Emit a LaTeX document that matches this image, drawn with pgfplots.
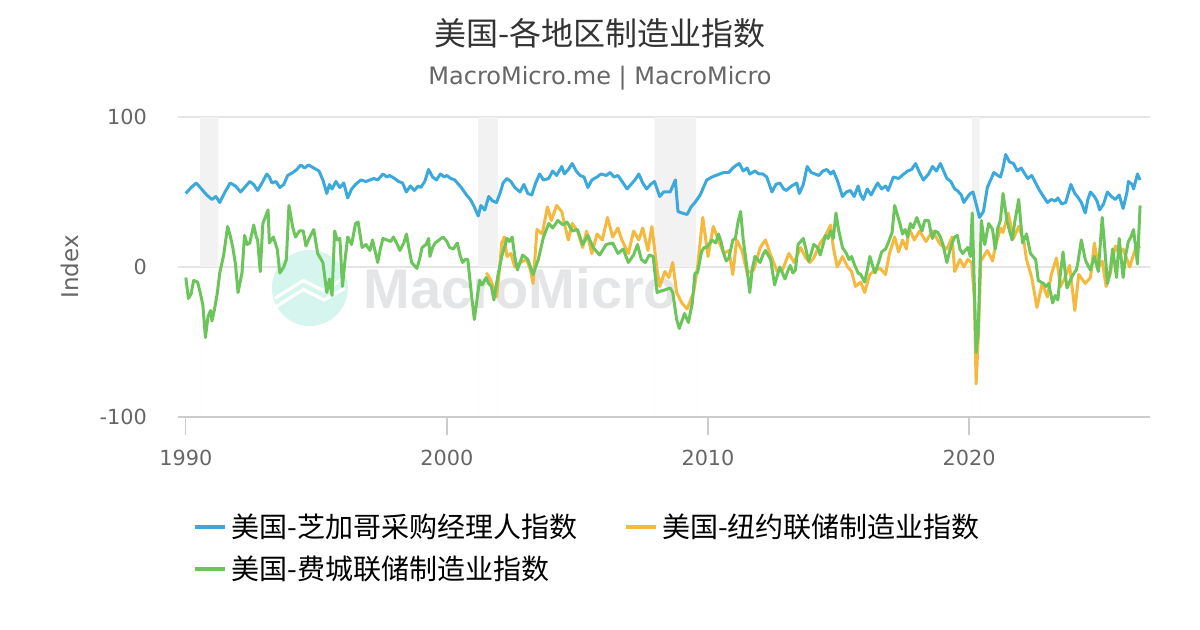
\documentclass[border=0pt]{standalone}
\usepackage{fontspec}
\setmainfont{DejaVu Sans}
\newfontfamily\cjk{Noto Sans CJK SC}
\newfontfamily\wmfont{Liberation Sans}
\usepackage{pgfplots}
\pgfplotsset{compat=1.18}

\definecolor{chi}{HTML}{3BA9DC}
\definecolor{nyf}{HTML}{F4B93E}
\definecolor{phl}{HTML}{6BC55B}
\definecolor{recess}{HTML}{F2F2F2}
\definecolor{txtgray}{HTML}{666666}
\definecolor{ttl}{HTML}{333333}

\begin{document}
\begin{tikzpicture}
\useasboundingbox (0,0) rectangle (600pt,315pt);
\node[font=\cjk\fontsize{16}{18}\selectfont, text=ttl] at (300pt,298.5pt) {美国-各地区制造业指数};
\node[font=\fontsize{12}{14}\selectfont, text=txtgray] at (300pt,276pt) {MacroMicro.me | MacroMicro};

\begin{axis}[
    at={(89pt,106.5pt)}, anchor=south west,
    scale only axis, width=486pt, height=150pt,
    xmin=1989.7, xmax=2026.93, ymin=-100, ymax=100,
    axis lines*=left,
    y axis line style={draw=none},
    x axis line style={draw=black!20, line width=0.6pt},
    xtick={1990,2000,2010,2020}, xticklabels={1990,2000,2010,2020},
    ytick={-100,0,100}, yticklabels={-100,0,100},
    tick align=outside, major tick length=9pt,
    xtick style={draw=black!20, line width=0.6pt},
    ytick style={draw=none},
    ymajorgrids, grid style={draw=black!10, line width=0.6pt},
    ticklabel style={font=\fontsize{10.4}{12}\selectfont, text=txtgray},
    yticklabel style={xshift=-3pt},
    xticklabel style={yshift=-4pt},
    ylabel={Index},
    every axis y label/.style={at={(axis description cs:-0.111,0.5)}, anchor=center, rotate=90, font=\fontsize{11.5}{13}\selectfont, text=txtgray},
    legend columns=2,
    legend cell align=left,
    legend style={at={(axis description cs:0,0)}, anchor=north west, xshift=4.5pt, yshift=-44pt,
        draw=none, fill=none, font=\cjk\fontsize{14}{16}\selectfont,
        /tikz/every even column/.append style={column sep=21.5pt}, row sep=4pt},
    legend image code/.code={\draw[#1, line width=2pt] (-1.5pt,0pt) -- (13.5pt,0pt);},
]
% recession bands
\addplot[fill=recess, draw=none, forget plot] coordinates {(1990.55,-100) (1990.55,100) (1991.25,100) (1991.25,-100)} \closedcycle;
\addplot[fill=recess, draw=none, forget plot] coordinates {(2001.2,-100) (2001.2,100) (2001.95,100) (2001.95,-100)} \closedcycle;
\addplot[fill=recess, draw=none, forget plot] coordinates {(2007.95,-100) (2007.95,100) (2009.55,100) (2009.55,-100)} \closedcycle;
\addplot[fill=recess, draw=none, forget plot] coordinates {(2020.12,-100) (2020.12,100) (2020.4,100) (2020.4,-100)} \closedcycle;

% watermark
\fill[color={rgb,255:red,214;green,245;blue,238}] (axis cs:1994.75,-14) circle[radius=19pt];
\draw[white, line width=1.6pt] (axis cs:1993.4,-21) -- (axis cs:1994.5,-9) -- (axis cs:1995.3,-16) -- (axis cs:1996.0,-8);
\draw[white, line width=1.6pt] (axis cs:1993.4,-27) -- (axis cs:1994.5,-15) -- (axis cs:1995.3,-22) -- (axis cs:1996.1,-14);
\node[font=\wmfont\bfseries\fontsize{28}{30}\selectfont, text={rgb,255:red,228;green,229;blue,230}] at (axis cs:2002.84,-14) {MacroMicro};

% Chicago PMI
\addplot[chi, line width=1.5pt, line join=round] coordinates {
(1990.0,49) (1990.2,53) (1990.4,56) (1990.6,52) (1990.8,48) (1991.0,45) (1991.15,47) (1991.3,43)
(1991.5,50) (1991.7,56) (1991.9,54) (1992.1,50) (1992.3,54) (1992.45,57) (1992.6,55) (1992.75,51)
(1992.95,57) (1993.1,62) (1993.2,60) (1993.3,56) (1993.45,57) (1993.6,53) (1993.75,55) (1993.9,61)
(1994.1,63) (1994.25,65) (1994.4,68) (1994.55,66) (1994.7,68) (1994.9,66) (1995.0,65) (1995.1,64)
(1995.25,58) (1995.4,49) (1995.5,55) (1995.6,52) (1995.75,57) (1995.9,53) (1996.05,56) (1996.2,46)
(1996.35,52) (1996.5,55) (1996.7,58) (1996.9,57) (1997.05,58) (1997.2,59) (1997.35,58) (1997.55,62)
(1997.7,60) (1997.8,61) (1998.0,59) (1998.15,57) (1998.3,56) (1998.45,50) (1998.6,54) (1998.75,51)
(1998.9,54) (1999.0,53) (1999.15,57) (1999.3,65) (1999.45,60) (1999.6,58) (1999.75,62) (1999.9,60)
(2000.0,61) (2000.15,59) (2000.3,58) (2000.4,56) (2000.55,53) (2000.75,48) (2000.9,45) (2001.05,40)
(2001.2,34) (2001.3,41) (2001.45,38) (2001.6,47) (2001.75,44) (2001.9,43) (2002.05,50) (2002.15,56)
(2002.3,59) (2002.45,57) (2002.6,53) (2002.8,50) (2002.95,55) (2003.1,49) (2003.25,48) (2003.4,56)
(2003.55,62) (2003.7,58) (2003.9,59) (2004.05,64) (2004.2,61) (2004.4,67) (2004.5,62) (2004.65,65)
(2004.8,69) (2004.95,64) (2005.1,61) (2005.25,60) (2005.4,53) (2005.55,58) (2005.75,60) (2005.9,62)
(2006.1,61) (2006.25,63) (2006.4,60) (2006.55,61) (2006.75,56) (2006.9,52) (2007.05,55) (2007.2,58)
(2007.35,62) (2007.5,56) (2007.65,52) (2007.8,55) (2007.95,57) (2008.15,47) (2008.3,50) (2008.55,50)
(2008.75,58) (2008.85,37) (2009.0,36) (2009.2,35) (2009.35,40) (2009.5,43) (2009.7,48) (2009.85,54)
(2009.95,58) (2010.15,60) (2010.3,61) (2010.45,62) (2010.6,63) (2010.8,63) (2010.95,66) (2011.1,68)
(2011.2,69) (2011.35,64) (2011.5,66) (2011.6,62) (2011.8,64) (2011.95,62) (2012.1,62) (2012.25,60)
(2012.45,50) (2012.6,55) (2012.75,56) (2012.9,52) (2013.0,51) (2013.2,54) (2013.4,56) (2013.5,49)
(2013.65,55) (2013.8,67) (2013.95,63) (2014.1,62) (2014.25,61) (2014.4,64) (2014.55,65) (2014.7,62)
(2014.8,64) (2014.95,58) (2015.15,47) (2015.3,50) (2015.45,51) (2015.6,47) (2015.75,54) (2015.85,48)
(2015.95,45) (2016.1,52) (2016.25,48) (2016.4,53) (2016.5,56) (2016.65,52) (2016.8,54) (2016.9,51)
(2017.1,60) (2017.3,59) (2017.5,62) (2017.65,64) (2017.8,65) (2017.95,69) (2018.1,63) (2018.25,58)
(2018.45,62) (2018.6,67) (2018.75,64) (2018.9,69) (2019.05,63) (2019.15,59) (2019.3,57) (2019.45,52)
(2019.55,51) (2019.7,48) (2019.8,43) (2019.95,47) (2020.05,49) (2020.15,50) (2020.3,40) (2020.4,33)
(2020.55,37) (2020.7,53) (2020.85,59) (2020.95,63) (2021.1,61) (2021.2,60) (2021.3,66) (2021.4,75)
(2021.55,70) (2021.7,69) (2021.85,64) (2022.0,66) (2022.1,63) (2022.25,59) (2022.4,61) (2022.55,56)
(2022.7,51) (2022.85,47) (2023.0,43) (2023.15,45) (2023.3,44) (2023.4,46) (2023.55,42) (2023.7,43)
(2023.9,55) (2024.05,49) (2024.15,47) (2024.3,43) (2024.45,36) (2024.55,45) (2024.65,50) (2024.8,47)
(2024.9,44) (2025.0,38) (2025.15,42) (2025.3,50) (2025.45,47) (2025.6,45) (2025.75,48) (2025.9,39)
(2026.05,50) (2026.1,57) (2026.25,55) (2026.3,52) (2026.45,62) (2026.55,58)
};
\addlegendentry{美国-芝加哥采购经理人指数}

% NY Fed Empire State
\addplot[nyf, line width=1.5pt, line join=round] coordinates {
(2001.5,-4) (2001.6,-6) (2001.75,-12) (2001.9,-20) (2002.0,-4) (2002.1,16) (2002.2,20) (2002.3,7)
(2002.45,9) (2002.6,0) (2002.8,3) (2003.05,5) (2003.2,-2) (2003.3,-11) (2003.45,25) (2003.65,22)
(2003.85,40) (2004.0,31) (2004.2,41) (2004.4,37) (2004.5,29) (2004.65,18) (2004.8,29) (2005.0,24)
(2005.2,13) (2005.35,24) (2005.55,9) (2005.75,22) (2005.95,18) (2006.15,33) (2006.35,20) (2006.55,26)
(2006.7,18) (2006.95,9) (2007.15,24) (2007.35,18) (2007.5,26) (2007.7,11) (2007.85,27) (2008.05,-2)
(2008.15,-13) (2008.35,-3) (2008.5,-7) (2008.65,3) (2008.8,-17) (2009.0,-24) (2009.2,-28) (2009.45,-17)
(2009.6,0) (2009.8,33) (2010.0,7) (2010.2,27) (2010.4,18) (2010.6,9) (2010.8,11) (2010.95,-5)
(2011.1,18) (2011.3,11) (2011.5,-4) (2011.75,-2) (2012.0,13) (2012.2,18) (2012.4,8) (2012.65,-3)
(2012.85,-2) (2013.1,9) (2013.3,3) (2013.55,13) (2013.75,6) (2013.9,3) (2014.05,6) (2014.3,16)
(2014.5,21) (2014.7,28) (2014.8,13) (2014.95,0) (2015.15,7) (2015.35,0) (2015.5,-3) (2015.65,-13)
(2015.85,-10) (2016.0,-17) (2016.2,-5) (2016.4,-2) (2016.6,-1) (2016.8,-5) (2016.95,9) (2017.15,20)
(2017.3,10) (2017.45,18) (2017.6,12) (2017.7,26) (2017.9,18) (2018.1,24) (2018.35,17) (2018.6,24)
(2018.9,15) (2019.15,12) (2019.35,20) (2019.45,-3) (2019.65,5) (2019.8,0) (2019.95,5) (2020.1,3)
(2020.2,-21) (2020.27,-78) (2020.35,-48) (2020.45,4) (2020.7,11) (2020.9,4) (2021.0,13) (2021.2,26)
(2021.3,23) (2021.5,36) (2021.7,19) (2021.9,27) (2022.1,17) (2022.2,5) (2022.4,-7) (2022.6,-27)
(2022.8,-11) (2023.0,-20) (2023.15,-5) (2023.35,6) (2023.5,-13) (2023.65,-8) (2023.85,1) (2024.05,-29)
(2024.2,-5) (2024.45,-11) (2024.65,-7) (2024.8,16) (2024.95,0) (2025.1,4) (2025.25,-13) (2025.4,-5)
(2025.6,14) (2025.75,9) (2025.9,12) (2026.15,0) (2026.35,11) (2026.55,14)
};
\addlegendentry{美国-纽约联储制造业指数}

% Philadelphia Fed
\addplot[phl, line width=1.5pt, line join=round] coordinates {
(1990.0,-7) (1990.1,-21) (1990.2,-18) (1990.3,-9) (1990.45,-10) (1990.55,-17) (1990.65,-25) (1990.75,-47)
(1990.85,-33) (1990.95,-29) (1991.0,-36) (1991.1,-28) (1991.2,-18) (1991.3,-4) (1991.45,8) (1991.6,27)
(1991.7,21) (1991.8,13) (1991.9,2) (1992.0,-17) (1992.15,-4) (1992.25,21) (1992.35,15) (1992.45,16)
(1992.6,28) (1992.7,20) (1992.75,18) (1992.85,-3) (1992.95,29) (1993.15,38) (1993.2,16) (1993.35,20)
(1993.5,12) (1993.6,-4) (1993.75,0) (1993.85,5) (1993.95,41) (1994.1,26) (1994.2,20) (1994.35,24)
(1994.5,24) (1994.6,14) (1994.75,20) (1994.9,25) (1995.05,9) (1995.15,6) (1995.25,3) (1995.4,-17)
(1995.5,-8) (1995.6,-19) (1995.7,24) (1995.8,18) (1995.9,19) (1996.0,-13) (1996.1,5) (1996.2,20)
(1996.35,15) (1996.5,29) (1996.6,30) (1996.75,13) (1996.9,15) (1997.05,11) (1997.15,18) (1997.35,3)
(1997.45,12) (1997.55,19) (1997.7,18) (1997.85,17) (1997.95,20) (1998.1,15) (1998.2,11) (1998.35,16)
(1998.45,22) (1998.55,12) (1998.65,3) (1998.85,-1) (1998.95,5) (1999.05,13) (1999.2,15) (1999.3,19)
(1999.35,7) (1999.45,13) (1999.55,16) (1999.7,18) (1999.85,20) (2000.0,17) (2000.1,13) (2000.25,12)
(2000.4,16) (2000.5,8) (2000.6,3) (2000.7,5) (2000.8,5) (2000.95,-20) (2001.05,-35) (2001.15,-22)
(2001.25,-9) (2001.35,-12) (2001.5,-7) (2001.6,-11) (2001.7,-13) (2001.8,-22) (2001.95,-6) (2002.1,7)
(2002.2,13) (2002.3,19) (2002.4,17) (2002.5,20) (2002.6,7) (2002.7,-2) (2002.9,8) (2003.1,5)
(2003.3,-5) (2003.5,5) (2003.7,20) (2003.9,29) (2004.05,26) (2004.25,31) (2004.45,28) (2004.6,30)
(2004.8,24) (2005.0,25) (2005.2,15) (2005.4,21) (2005.6,13) (2005.85,8) (2006.1,15) (2006.35,16)
(2006.55,9) (2006.75,12) (2006.95,3) (2007.15,8) (2007.3,15) (2007.45,5) (2007.6,3) (2007.75,8)
(2007.9,7) (2008.05,-17) (2008.2,-16) (2008.4,-15) (2008.55,-14) (2008.65,-17) (2008.8,-35) (2008.9,-41)
(2009.0,-36) (2009.1,-31) (2009.25,-37) (2009.4,-24) (2009.5,-4) (2009.6,-4) (2009.75,10) (2009.85,13)
(2009.95,13) (2010.15,18) (2010.3,16) (2010.4,22) (2010.5,17) (2010.6,9) (2010.7,4) (2010.8,6)
(2010.95,18) (2011.05,19) (2011.15,30) (2011.25,37) (2011.35,18) (2011.45,5) (2011.6,-17) (2011.7,-1)
(2011.8,7) (2011.9,5) (2012.0,3) (2012.1,8) (2012.2,11) (2012.3,8) (2012.4,5) (2012.55,-12)
(2012.7,-3) (2012.75,0) (2012.85,-4) (2012.95,-8) (2013.05,-3) (2013.15,1) (2013.25,-4) (2013.35,-2)
(2013.45,15) (2013.55,17) (2013.65,19) (2013.75,12) (2013.85,4) (2013.95,9) (2014.05,15) (2014.2,13)
(2014.3,8) (2014.5,21) (2014.6,19) (2014.7,24) (2014.8,19) (2014.9,36) (2015.0,25) (2015.15,13)
(2015.3,9) (2015.4,5) (2015.5,7) (2015.6,2) (2015.75,-4) (2015.85,-5) (2016.0,-10) (2016.1,-2)
(2016.2,7) (2016.3,1) (2016.4,-4) (2016.55,4) (2016.65,10) (2016.8,12) (2016.9,16) (2017.05,23)
(2017.15,41) (2017.25,35) (2017.35,29) (2017.45,22) (2017.55,25) (2017.65,20) (2017.75,29) (2017.85,26)
(2018.0,33) (2018.1,28) (2018.2,24) (2018.3,31) (2018.45,31) (2018.55,22) (2018.6,19) (2018.7,24)
(2018.8,23) (2018.9,20) (2019.0,15) (2019.15,3) (2019.25,10) (2019.35,16) (2019.45,20) (2019.55,21)
(2019.65,12) (2019.75,9) (2019.85,11) (2019.95,13) (2020.05,7) (2020.12,36) (2020.2,-12) (2020.27,-57)
(2020.35,-43) (2020.47,31) (2020.6,15) (2020.75,29) (2020.9,25) (2021.0,12) (2021.1,26) (2021.2,31)
(2021.3,49) (2021.45,31) (2021.55,24) (2021.65,18) (2021.75,30) (2021.9,45) (2022.05,16) (2022.2,22)
(2022.35,9) (2022.45,7) (2022.55,5) (2022.65,-9) (2022.85,-11) (2022.95,-13) (2023.05,-11) (2023.2,-24)
(2023.3,-19) (2023.4,-22) (2023.5,-4) (2023.6,10) (2023.7,-7) (2023.75,-14) (2023.95,-6) (2024.1,-2)
(2024.15,1) (2024.3,18) (2024.45,5) (2024.55,1) (2024.65,-2) (2024.8,7) (2024.95,-3) (2025.1,33)
(2025.2,12) (2025.3,-11) (2025.4,-3) (2025.5,12) (2025.65,-7) (2025.75,19) (2025.9,-7) (2026.0,8)
(2026.1,17) (2026.2,20) (2026.3,25) (2026.45,2) (2026.55,41)
};
\addlegendentry{美国-费城联储制造业指数}
\end{axis}
\end{tikzpicture}
\end{document}
